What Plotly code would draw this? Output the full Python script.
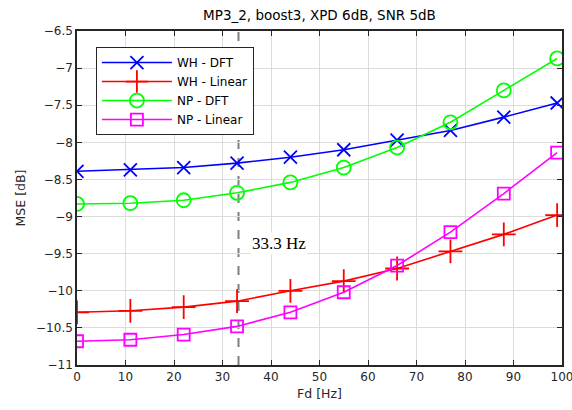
import plotly.graph_objects as go

fd = [0, 11, 22, 33, 44, 55, 66, 77, 88, 99]
wh_dft = [-8.39, -8.37, -8.34, -8.28, -8.20, -8.10, -7.97, -7.84, -7.66, -7.47]
wh_linear = [-10.29, -10.27, -10.22, -10.14, -10.00, -9.87, -9.70, -9.47, -9.24, -8.98]
np_dft = [-8.83, -8.82, -8.78, -8.68, -8.54, -8.34, -8.07, -7.73, -7.30, -6.87]
np_linear = [-10.68, -10.66, -10.59, -10.48, -10.29, -10.02, -9.66, -9.21, -8.69, -8.14]

marker_fd = 33.3
marker_label = "33.3 Hz"
title_text = "MP3_2, boost3, XPD 6dB, SNR 5dB"

FONT = "DejaVu Sans, Verdana, sans-serif"
TXT = "#262626"

series = [
    ("WH - DFT", wh_dft, "#0000ff", "x-thin-open", 13),
    ("WH - Linear", wh_linear, "#ff0000", "cross-thin-open", 17),
    ("NP - DFT", np_dft, "#00ff00", "circle-open", 14),
    ("NP - Linear", np_linear, "#ff00ff", "square-open", 12),
]

fig = go.Figure()
for name, ys, col, sym, sz in series:
    fig.add_trace(go.Scatter(
        x=fd, y=ys, name=name, mode="lines+markers",
        line=dict(color=col, width=1.6),
        marker=dict(symbol=sym, size=sz, color=col, line=dict(color=col, width=1.8)),
    ))

fig.add_shape(type="line", xref="x", yref="paper", x0=marker_fd, x1=marker_fd, y0=0, y1=1,
              line=dict(color="#7f7f7f", width=2, dash="dash"), layer="below")

fig.add_annotation(x=marker_fd + 2.3, y=-9.36, xref="x", yref="y", text=marker_label,
                   showarrow=False, xanchor="left", yanchor="middle",
                   font=dict(family="Liberation Serif, Times New Roman, serif", size=17, color="#000000"),
                   bgcolor="white", borderpad=1)

axis_common = dict(
    showgrid=True, gridcolor="#dcdcdc", gridwidth=1,
    showline=True, linecolor="#262626", linewidth=1.5, mirror="ticks",
    ticks="inside", ticklen=5, tickcolor="#262626", tickwidth=1.2,
    zeroline=False, automargin=False, ticklabeloverflow="allow",
    tickfont=dict(family=FONT, size=12, color=TXT),
    title_font=dict(family=FONT, size=12.5, color=TXT),
)

fig.update_xaxes(range=[0, 100], dtick=10, tick0=0, title_text="Fd [Hz]", title_standoff=6, **axis_common)
fig.update_yaxes(range=[-11, -6.5], dtick=0.5, tick0=-11, title_text="MSE [dB]", title_standoff=8, **axis_common)

fig.update_layout(
    width=572, height=410,
    margin=dict(l=77, r=10, t=31, b=45, autoexpand=False),
    paper_bgcolor="white", plot_bgcolor="white",
    title=dict(text=title_text, x=0.5585, xanchor="center", y=0.962, yanchor="middle",
               font=dict(family=FONT, size=13.5, color="#000000")),
    legend=dict(x=0.039, y=0.952, xanchor="left", yanchor="top",
                bgcolor="white", bordercolor="#262626", borderwidth=1,
                font=dict(family=FONT, size=12, color="#000000"),
                tracegroupgap=0, itemwidth=70),
    showlegend=True,
)

fig.write_html("out.html")
